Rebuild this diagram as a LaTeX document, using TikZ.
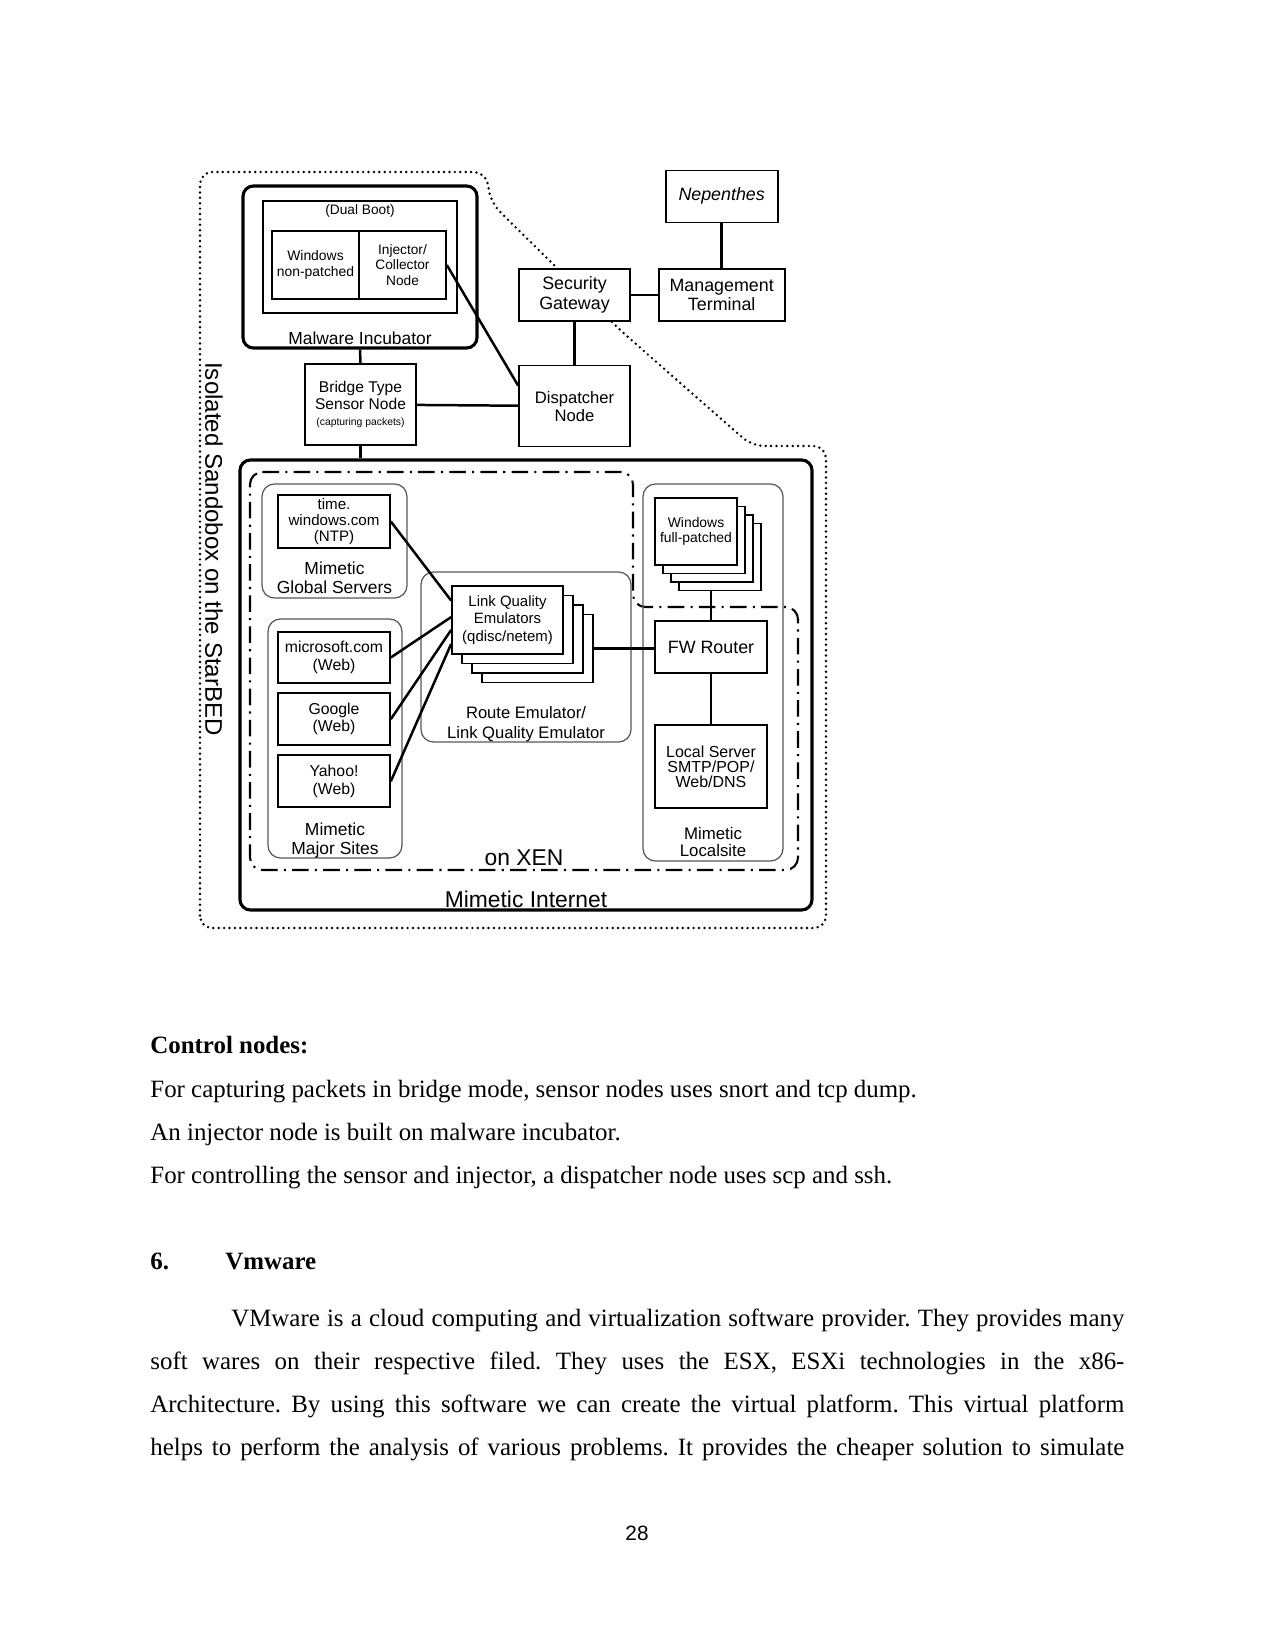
\documentclass[tikz,border=0pt]{standalone}
\usepackage{fontspec}
\setmainfont{Liberation Serif}
\newfontfamily\arialfont{Liberation Sans}
\usetikzlibrary{positioning}
\frenchspacing

\newlength\pxu
\setlength\pxu{0.4818pt}
\newcommand{\fsz}[2]{\arialfont\fontsize{#1}{#2}\selectfont}

\begin{document}
\begin{tikzpicture}[
    x=0.4818pt, y=-0.4818pt,
    box/.style={rectangle, draw, fill=white, line width=0.8pt, inner sep=0pt, align=center, font=\fsz{8.6}{9.4}},
    stackbox/.style={box},
    site/.style={box, minimum width=112\pxu, minimum height=52\pxu, font=\fsz{7.6}{8.3}},
    frame/.style={rectangle, draw, rounded corners=5pt, line width=1.5pt},
    group/.style={rectangle, draw=black!65, rounded corners=6pt, line width=0.6pt},
    grouplbl/.style={inner sep=0pt, align=center, font=\fsz{8.4}{9.4}},
    biglbl/.style={inner sep=0pt, font=\fsz{11}{13}},
    link/.style={line width=1.2pt},
    xenline/.style={line width=1pt, dash pattern=on 8pt off 3pt on 1pt off 3pt, rounded corners=6pt},
    sandline/.style={line width=1.3pt, line cap=round, dash pattern=on 0pt off 2.6pt, rounded corners=6pt},
    bodytext/.style={anchor=base west, inner sep=0pt, font=\fontsize{12}{14}\selectfont},
    bodybold/.style={bodytext, font=\fontsize{12}{14}\selectfont\bfseries}
  ]
    \path[use as bounding box, fill=white] (0,0) rectangle (1275,1650);

    % sandbox outline
    \draw[sandline] (200,928) -- (200,172) -- (486,172) -- (491,203) -- (620,330) -- (752,446) -- (826,446) -- (826,928) -- cycle;
    \node[biglbl, rotate=-90, font=\fsz{11.6}{13}] (sandlbl) at (214,549) {Isolated Sandobox on the StarBED};

    % malware incubator
    \node[frame, minimum width=234\pxu, minimum height=162\pxu] (incub) at (360,267) {};
    \node[box, line width=0.6pt, minimum width=194\pxu, minimum height=112\pxu] (dual) at (360,257) {};
    \node[inner sep=0pt, font=\fsz{6.6}{7.5}] (duallbl) at (360,211) {(Dual Boot)};
    \node[box, minimum width=87\pxu, minimum height=68\pxu, font=\fsz{6.7}{7.5}] (winnp) at (315.5,265) {Windows\\non-patched};
    \node[box, minimum width=87\pxu, minimum height=68\pxu, font=\fsz{6.6}{7.4}] (inj) at (402.5,265) {Injector/\\Collector\\Node};
    \node[grouplbl, above=2pt of incub.south] (incublbl) {Malware Incubator};

    % control side
    \node[box, minimum width=111\pxu, minimum height=81\pxu, font=\fsz{7.5}{7.8}] (bridge) at (360.5,404.5) {Bridge Type\\Sensor Node\\{\fsz{5}{6}(capturing packets)}};
    \node[box, minimum width=111\pxu, minimum height=52\pxu] (sg) at (574.5,295) {Security\\Gateway};
    \node[box, minimum width=126\pxu, minimum height=52\pxu, right=27\pxu of sg] (mt) {Management\\Terminal};
    \node[box, minimum width=112\pxu, minimum height=52\pxu, above=45\pxu of mt, font=\fsz{8.6}{9.4}\itshape] (nep) {Nepenthes};
    \node[box, minimum width=111\pxu, minimum height=81\pxu, below=43\pxu of sg, font=\fsz{8}{8.6}] (disp) {Dispatcher\\Node};

    % mimetic internet
    \node[frame, minimum width=572\pxu, minimum height=450\pxu] (inet) at (526,685) {};
    \node[biglbl, above=1.5pt of inet.south] (inetlbl) {Mimetic Internet};
    \draw[xenline] (250,472) -- (633,472) -- (633,607) -- (798,607) -- (798,870) -- (250,870) -- cycle;
    \node[biglbl] (xenlbl) at (524,858) {on XEN};

    \node[group, minimum width=145\pxu, minimum height=114\pxu] (global) at (334.5,541) {};
    \node[site, minimum height=53\pxu, font=\fsz{7.3}{7.9}] (ntp) at (334,521.5) {time.\\windows.com\\(NTP)};
    \node[grouplbl, above=2pt of global.south] (globallbl) {Mimetic\\Global Servers};

    \node[group, minimum width=134\pxu, minimum height=239\pxu] (major) at (335,738.5) {};
    \node[site, minimum height=51\pxu] (ms) at (334,657.5) {microsoft.com\\(Web)};
    \node[site, below=8.5\pxu of ms] (goog) {Google\\(Web)};
    \node[site, below=8.5\pxu of goog] (yahoo) {Yahoo!\\(Web)};
    \node[grouplbl, above=0pt of major.south] (majorlbl) {Mimetic\\Major Sites};

    \node[group, minimum width=210\pxu, minimum height=170\pxu] (route) at (526,657) {};
    \foreach \k in {3,2,1}
      \node[stackbox, minimum width=111\pxu, minimum height=68\pxu] (lqe\k) at (507.5+10*\k, 620+9.5*\k) {};
    \node[stackbox, minimum width=111\pxu, minimum height=68\pxu, font=\fsz{7.2}{8.6}] (lqe) at (507.5,620) {Link Quality\\Emulators\\(qdisc/netem)};
    \node[grouplbl, above=0pt of route.south, font=\fsz{8}{9.6}] (routelbl) {Route Emulator/\\Link Quality Emulator};

    \node[group, minimum width=140\pxu, minimum height=377\pxu] (local) at (713,672.5) {};
    \foreach \k in {3,2,1}
      \node[stackbox, minimum width=82\pxu, minimum height=67\pxu] (winfp\k) at (696+8*\k, 531.5+8.5*\k) {};
    \node[stackbox, minimum width=82\pxu, minimum height=67\pxu, font=\fsz{6.7}{7.6}] (winfp) at (696,531.5) {Windows\\full-patched};
    \node[box, minimum width=112\pxu, minimum height=52\pxu] (fw) at (711,647) {FW Router};
    \node[box, minimum width=112\pxu, minimum height=83\pxu, font=\fsz{7.7}{7.2}] (lsrv) at (711,766.5) {Local Server\\SMTP/POP/\\Web/DNS};
    \node[grouplbl, above=2pt of local.south, font=\fsz{8.1}{8.2}] (locallbl) {Mimetic\\Localsite};

    % connectors
    \draw[link] (nep) -- (mt);
    \draw[link] (sg) -- (mt);
    \draw[link] (sg) -- (disp);
    \draw[link] (inj.east) -- (disp.160);
    \draw[link] (incub.south) -- (bridge.north);
    \draw[link] (bridge) -- (disp);
    \draw[link] (bridge.south) -- (bridge.south |- inet.north);
    \foreach \s/\a in {ntp/161, ms/177, goog/190, yahoo/203}
      \draw[link] (\s.east) -- (lqe.\a);
    \draw[link] (lqe3.east) -- (lqe3.east -| fw.west);
    \draw[link] (fw.north) -- (fw.north |- winfp3.south);
    \draw[link] (fw) -- (lsrv);

    % page text
    \node[bodybold] (ctrlhead) at (150,1053) {Control nodes:};
    \node[bodytext] (ctrl1) at (150,1097) {For capturing packets in bridge mode, sensor nodes uses snort and tcp dump.};
    \node[bodytext] (ctrl2) at (150,1140) {An injector node is built on malware incubator.};
    \node[bodytext] (ctrl3) at (150,1183) {For controlling the sensor and injector, a dispatcher node uses scp and ssh.};
    \node[bodybold] (secnum) at (150,1269) {6.};
    \node[bodybold] (sectitle) at (225,1269) {Vmware};
    \node[bodytext] (vm1) at (150,1326) {\makebox[974\pxu][s]{\hspace*{39pt}VMware is a cloud computing and virtualization software provider. They provides many}};
    \node[bodytext] (vm2) at (150,1369) {\makebox[974\pxu][s]{soft wares on their respective filed. They uses the ESX, ESXi technologies in the x86-}};
    \node[bodytext] (vm3) at (150,1412) {\makebox[974\pxu][s]{Architecture. By using this software we can create the virtual platform. This virtual platform}};
    \node[bodytext] (vm4) at (150,1455) {\makebox[974\pxu][s]{helps to perform the analysis of various problems. It provides the cheaper solution to simulate}};
    \node[inner sep=0pt, anchor=base, font=\fsz{10}{12}] (pagenum) at (637,1540) {28};
  \end{tikzpicture}
\end{document}
